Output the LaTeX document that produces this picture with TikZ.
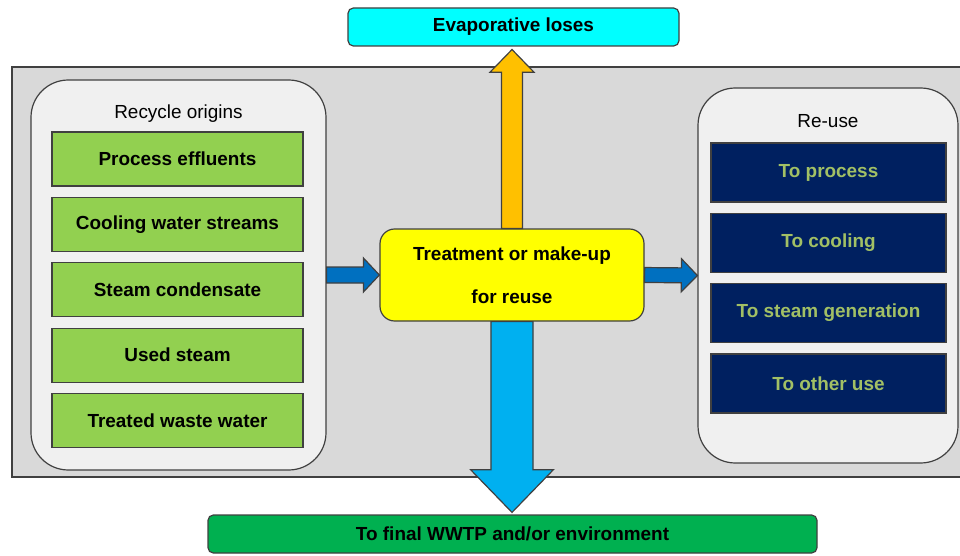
\documentclass[tikz,border=0pt]{standalone}
\usepackage{fontspec}
\setmainfont{Liberation Sans}
\usepackage{xcolor}
\usepackage{tikz}
\usetikzlibrary{calc}

\definecolor{backgray}{HTML}{D9D9D9}
\definecolor{panelgray}{HTML}{F0F0F0}
\definecolor{leafgreen}{HTML}{92D050}
\definecolor{navy}{HTML}{002060}
\definecolor{olivetext}{HTML}{A2C065}
\definecolor{flowblue}{HTML}{0070C0}
\definecolor{skyblue}{HTML}{00B0F0}
\definecolor{amber}{HTML}{FFC000}
\definecolor{brightcyan}{HTML}{00FFFF}
\definecolor{brightyellow}{HTML}{FFFF00}
\definecolor{deepgreen}{HTML}{00B050}
\definecolor{edge}{HTML}{404040}

% block arrow: colour, from, to, shaft half width, head half width, head length
\newcommand{\flowarrow}[6]{%
  \coordinate (fa-s) at (#2);
  \coordinate (fa-t) at (#3);
  \coordinate (fa-h) at ($(fa-t)!#6!(fa-s)$);
  \filldraw[outline, fill=#1] ($(fa-s)!#4!90:(fa-t)$) -- ($(fa-h)!#4!90:(fa-t)$)
    -- ($(fa-h)!#5!90:(fa-t)$) -- (fa-t) -- ($(fa-h)!#5!-90:(fa-t)$)
    -- ($(fa-h)!#4!-90:(fa-t)$) -- ($(fa-s)!#4!-90:(fa-t)$) -- cycle;}

\tikzset{
  outline/.style={draw=edge, line width=0.9pt, line join=miter},
  txt/.style={font=\fontsize{14.2}{17}\selectfont},
  boldtxt/.style={font=\bfseries\fontsize{14.2}{17}\selectfont},
  panel/.style={outline, fill=panelgray, rounded corners=28pt, inner sep=0pt},
  srcbox/.style={outline, fill=leafgreen, boldtxt, minimum width=188.25pt, minimum height=40.5pt, inner sep=0pt},
  usebox/.style={outline, fill=navy, boldtxt, text=olivetext, minimum width=176.25pt, minimum height=44.25pt, inner sep=0pt},
  endbox/.style={outline, boldtxt, rounded corners=4pt, minimum height=28.5pt, inner sep=0pt}
}

\begin{document}
\begin{tikzpicture}[x=0.75pt, y=-0.75pt]
  \useasboundingbox (0,0) rectangle (960,556);

  % grey frame behind everything
  \filldraw[outline, fill=backgray] (12,67) rectangle (964,477);

  % outlet boxes
  \node[endbox, fill=brightcyan, minimum width=248.25pt] (evap) at (513.5,27) {Evaporative loses};
  \node[endbox, fill=deepgreen, minimum width=456.75pt] (final) at (512.5,534) {To final WWTP and/or environment};

  % recycle origins panel
  \node[panel, minimum width=221.25pt, minimum height=292.5pt] (origins) at (178.5,275) {};
  \node[txt] (originstitle) at (178.5,114) {Recycle origins};
  \foreach \lab [count=\i from 0] in {Process effluents, Cooling water streams, Steam condensate, Used steam, Treated waste water} {
    \node[srcbox] (src\i) at (177.5,{159+65.4*\i}) {\lab};
  }

  % re-use panel
  \node[panel, minimum width=195pt, minimum height=281.25pt] (reuse) at (828,275.5) {};
  \node[txt] (reusetitle) at (828,121) {Re-use};
  \foreach \lab [count=\i from 0] in {To process, To cooling, To steam generation, To other use} {
    \node[usebox] (use\i) at (828.5,{172.5+70.3*\i}) {\lab};
  }

  % treatment box
  \node[outline, fill=brightyellow, boldtxt, rounded corners=11pt, align=center,
        minimum width=198pt, minimum height=69pt, inner sep=0pt] (treat) at (512,275)
        {Treatment or make-up\\[15pt]for reuse};

  % flows
  \flowarrow{flowblue}{origins.east}{treat.west}{6pt}{12.75pt}{12pt}
  \flowarrow{flowblue}{treat.east}{reuse.west}{5.6pt}{12.4pt}{12pt}
  \flowarrow{amber}{treat.north}{[yshift=-2.2pt]treat.north |- evap.south}{7.9pt}{16.5pt}{17pt}
  \flowarrow{skyblue}{treat.south}{[yshift=1.5pt]treat.south |- final.north}{15.8pt}{31pt}{32pt}
\end{tikzpicture}
\end{document}
